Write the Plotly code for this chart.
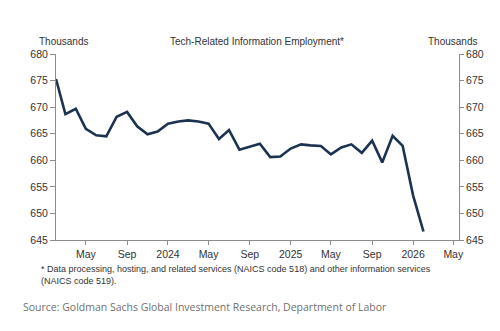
import pandas as pd
import plotly.graph_objects as go

# Monthly employment, thousands (NAICS 518 + 519), Feb 2023 - Feb 2026
months = pd.date_range("2023-02-01", "2026-02-01", freq="MS")
employment = [
    675.3, 668.7, 669.7, 665.9, 664.7, 664.5, 668.2, 669.1, 666.4, 664.9, 665.4,
    666.9, 667.3, 667.5, 667.3, 666.9, 664.0, 665.7, 662.0, 662.6, 663.1, 660.6, 660.7,
    662.2, 663.0, 662.8, 662.7, 661.1, 662.4, 663.0, 661.4, 663.7, 659.6, 664.6, 662.7,
    653.4, 646.6,
]

tick_dates = ["2023-05-01", "2023-09-01", "2024-01-01", "2024-05-01", "2024-09-01",
              "2025-01-01", "2025-05-01", "2025-09-01", "2026-01-01", "2026-05-01"]
tick_text = ["May", "Sep", "2024", "May", "Sep", "2025", "May", "Sep", "2026", "May"]
y_ticks = [645, 650, 655, 660, 665, 670, 675, 680]

title = "Tech-Related Information Employment*"
footnote = ("* Data processing, hosting, and related services (NAICS code 518) and other information services"
            "<br>(NAICS code 519).")
source = "Source: Goldman Sachs Global Investment Research, Department of Labor"

LINE = "#1b3350"
AXIS = "#8c8c8c"
TXT = "#333333"
FONT = "Liberation Sans, Arial, sans-serif"

W, H = 500, 331
ML, MR, MT, MB = 56, 41, 54, 91

fig = go.Figure()
fig.add_trace(go.Scatter(x=months, y=employment, mode="lines",
                         line=dict(color=LINE, width=2.6), hoverinfo="skip"))
# same series on the right-hand axis so it carries its own scale
fig.add_trace(go.Scatter(x=months, y=employment, mode="lines", yaxis="y2",
                         line=dict(color="rgba(0,0,0,0)", width=0), hoverinfo="skip"))

axis_common = dict(showgrid=False, zeroline=False, showline=True, linecolor=AXIS,
                   linewidth=1, ticks="outside", tickcolor=AXIS, ticklen=4,
                   tickfont=dict(family=FONT, size=10.5, color=TXT))

fig.update_layout(
    width=W, height=H,
    margin=dict(l=ML, r=MR, t=MT, b=MB),
    paper_bgcolor="white", plot_bgcolor="white",
    showlegend=False,
    xaxis=dict(axis_common, range=["2023-02-01", "2026-05-18"],
               tickvals=tick_dates, ticktext=tick_text),
    yaxis=dict(axis_common, range=[645, 680], tickvals=y_ticks, ticklen=5),
    yaxis2=dict(axis_common, range=[645, 680], tickvals=y_ticks, overlaying="y",
                side="right", ticklen=4),
    font=dict(family=FONT, color=TXT),
)


def px_x(p):
    return (p - ML) / (W - ML - MR)


def px_y(p):
    return (H - MB - p) / (H - MT - MB)


fig.add_annotation(text=title, x=px_x(257), y=px_y(41), xref="paper", yref="paper",
                   showarrow=False, xanchor="center", yanchor="middle",
                   font=dict(size=10, color=TXT, family=FONT))
for xc in (63, 452):
    fig.add_annotation(text="Thousands", x=px_x(xc), y=px_y(41), xref="paper", yref="paper",
                       showarrow=False, xanchor="center", yanchor="middle",
                       font=dict(size=10, color=TXT, family=FONT))
fig.add_annotation(text=footnote, x=px_x(39), y=px_y(262), xref="paper", yref="paper",
                   showarrow=False, xanchor="left", yanchor="top", align="left",
                   font=dict(size=9, color=TXT, family=FONT))
fig.add_annotation(text=source, x=px_x(21), y=px_y(307), xref="paper", yref="paper",
                   showarrow=False, xanchor="left", yanchor="middle",
                   font=dict(size=10.5, color="#707070", family="Open Sans, sans-serif"))

fig.write_html("out.html")
